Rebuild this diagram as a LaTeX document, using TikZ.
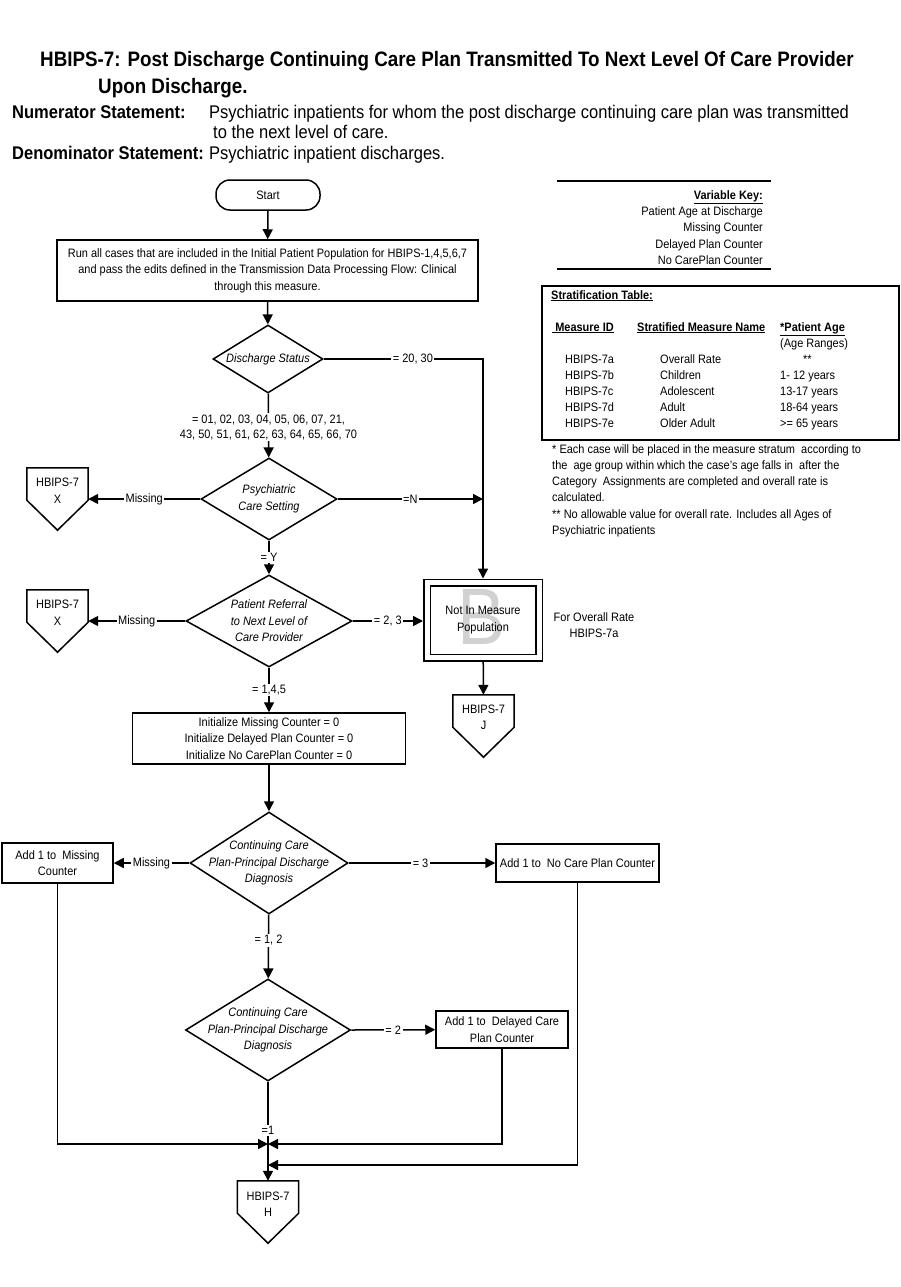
\documentclass[tikz,border=0pt]{standalone}
\usepackage{fontspec}
\setmainfont{Liberation Sans}[FakeStretch=0.9]
\usetikzlibrary{shapes.geometric,arrows.meta}
\begin{document}
\begin{tikzpicture}[x=1pt,y=-1pt,
		base/.style={font=\fontsize{12.2}{16.5}\selectfont,inner sep=0pt,align=center},
		box/.style={base,draw,line width=1.5pt},
		dec/.style={draw,diamond,line width=1.5pt,inner sep=0pt},
		dtxt/.style={base,font=\fontsize{12.2}{16.5}\selectfont\itshape},
		lab/.style={base,fill=white,inner sep=1.5pt},
		offp/.style={minimum width=61,minimum height=32,inner sep=0pt},
		flow/.style={line width=1.5pt,-{Triangle[length=10pt,width=10pt]}},
		head/.style={inner sep=0pt,anchor=base west,font=\fontsize{18.35}{21}\selectfont}]
		\useasboundingbox (0,0) rectangle (901,1287);
		\node[head,font=\fontsize{20.9}{24}\selectfont\bfseries] (title) at (40,67) {HBIPS-7: Post Discharge Continuing Care Plan Transmitted To Next Level Of Care Provider};
		\node[head,font=\fontsize{20.9}{24}\selectfont\bfseries] (title2) at (98,94) {Upon Discharge.};
		\node[head,font=\fontsize{18.35}{21}\selectfont\bfseries] (numlbl) at (12,118) {Numerator Statement:};
		\node[head] (numtxt) at (209,118) {Psychiatric inpatients for whom the post discharge continuing care plan was transmitted};
		\node[head] (numtxt2) at (213,139) {to the next level of care.};
		\node[head,font=\fontsize{18.35}{21}\selectfont\bfseries] (denlbl) at (12,159) {Denominator Statement:};
		\node[head] (dentxt) at (209,159) {Psychiatric inpatient discharges.};
		\node[box,rounded corners=14pt,minimum width=104,minimum height=30] (start) at (268,195) {Start};
		\node[box,minimum width=421,minimum height=61] (run) at (267.5,270.5) {Run all cases that are included in the Initial Patient Population for HBIPS-1,4,5,6,7\\and pass the edits defined in the Transmission Data Processing Flow: Clinical\\through this measure.};
		\node[dec,minimum width=110,minimum height=68,label={[dtxt]center:Discharge Status}] (dstat) at (268,359) {};
		\node[dec,minimum width=136,minimum height=82,label={[dtxt]center:{Psychiatric\\Care Setting}}] (care) at (269,499) {};
		\node[dec,minimum width=166,minimum height=92,label={[dtxt]center:{Patient Referral\\to Next Level of\\Care Provider}}] (refer) at (269,621) {};
		\node[box,minimum width=273,minimum height=51] (init) at (269,738.5) {Initialize Missing Counter = 0\\Initialize Delayed Plan Counter = 0\\Initialize No CarePlan Counter = 0};
		\node[dec,minimum width=158,minimum height=102,label={[dtxt]center:{Continuing Care\\Plan-Principal Discharge\\Diagnosis}}] (plana) at (269,863) {};
		\node[dec,minimum width=165,minimum height=102,label={[dtxt]center:{Continuing Care\\Plan-Principal Discharge\\Diagnosis}}] (planb) at (268,1030) {};
		\node[box,minimum width=111,minimum height=40] (addmiss) at (57.5,863) {Add 1 to\ \ Missing\\Counter};
		\node[box,minimum width=163,minimum height=38] (addno) at (577.5,863) {Add 1 to\ \ No Care Plan Counter};
		\node[box,minimum width=132,minimum height=37] (adddel) at (502,1029.5) {Add 1 to\ \ Delayed Care\\Plan Counter};
		\node[offp,label={[base,yshift=-6.5pt]center:{HBIPS-7\\X}}] (xa) at (57.5,484) {};
		\node[offp,label={[base,yshift=-6.5pt]center:{HBIPS-7\\X}}] (xb) at (57.5,606) {};
		\node[offp,label={[base,yshift=-6.5pt]center:{HBIPS-7\\J}}] (jc) at (483.5,711) {};
		\node[offp,label={[base,yshift=-7pt]center:{HBIPS-7\\H}}] (hc) at (268,1197) {};
		\foreach \n in {xa,xb,jc,hc}
			\draw[line width=1.5pt] (\n.south west) -- (\n.north west) -- (\n.north east) -- (\n.south east) -- ([yshift=-30pt]\n.south) -- cycle;
		\node[base,text=black!18,font=\fontsize{80}{80}\selectfont] (bmark) at (482,617) {B};
		\node[box,double,double distance=5pt,minimum width=112,minimum height=75,outer sep=4pt] (notin) at (483,620) {Not In Measure\\Population};
		\node[base] (overall) at (594,625) {For Overall Rate\\HBIPS-7a};
		\coordinate (mtop) at (268,1144);
		\coordinate (mlow) at (268,1165);
		\draw[flow] (start) -- (run);
		\draw[flow] (run) -- (dstat);
		\draw[flow] (dstat.east) -- node[lab,pos=.56]{= 20, 30} (dstat.east -| notin.north) -- (notin.north);
		\draw[flow] (dstat) -- node[lab,pos=.53]{= 01, 02, 03, 04, 05, 06, 07, 21,\\[-1.5pt]43, 50, 51, 61, 62, 63, 64, 65, 66, 70} (care);
		\draw[flow] (care.west) -- node[lab]{Missing} (care.west -| xa.east);
		\draw[flow] (care.east) -- node[lab]{=N} (care.east -| notin.north);
		\draw[flow] (care) -- node[lab]{= Y} (refer);
		\draw[flow] (refer.west) -- node[lab]{Missing} (refer.west -| xb.east);
		\draw[flow] (refer.east) -- node[lab]{= 2, 3} (refer.east -| notin.west);
		\draw[flow] (notin) -- (jc);
		\draw[flow] (refer) -- node[lab]{= 1,4,5} (init);
		\draw[flow] (init) -- (plana);
		\draw[flow] (plana.west) -- node[lab]{Missing} (addmiss);
		\draw[flow] (plana.east) -- node[lab,pos=.49]{= 3} (addno);
		\draw[flow] (plana) -- node[lab,pos=.4]{= 1, 2} (planb);
		\draw[flow] (planb.east) -- node[lab]{= 2} (adddel);
		\draw[flow] (planb) -- node[lab,pos=.49]{=1} (hc);
		\draw[flow] (addmiss) |- (mtop);
		\draw[flow] (adddel) |- (mtop);
		\draw[flow] (addno) |- (mlow);
		\draw[line width=2.4pt] (557,181) -- (771,181);
		\node[base,anchor=north east,align=right,font=\fontsize{12.2}{16.25}\selectfont] (varkey) at (763,190.4) {\underline{\textbf{Variable Key:}}\\Patient Age at Discharge\\Missing Counter\\Delayed Plan Counter\\No CarePlan Counter};
		\draw[line width=2.4pt] (557,269) -- (771,269);
		\node[draw,line width=1.5pt,minimum width=357,minimum height=154] (strat) at (720.5,363) {};
		\node[base,anchor=base west] (strtitle) at (551,299) {\underline{\textbf{Stratification Table:}}};
		\node[base,anchor=base west] (hid) at (552,331) {\underline{\textbf{\ Measure ID}}};
		\node[base,anchor=base west] (hname) at (637,331) {\underline{\textbf{Stratified Measure Name}}};
		\node[base,anchor=base west] (hage) at (780,331) {\underline{\textbf{*Patient Age}}};
		\node[base,anchor=north west,align=left,font=\fontsize{12.2}{16}\selectfont] (ids) at (565,354.3) {HBIPS-7a\\HBIPS-7b\\HBIPS-7c\\HBIPS-7d\\HBIPS-7e};
		\node[base,anchor=north west,align=left,font=\fontsize{12.2}{16}\selectfont] (names) at (660,354.1) {Overall Rate\\Children\\Adolescent\\Adult\\Older Adult};
		\node[base,anchor=north west,align=left,font=\fontsize{12.2}{16}\selectfont] (ages) at (780,338.1) {(Age Ranges)\\\hspace{23pt}**\\1- 12 years\\13-17 years\\18-64 years\\>= 65 years};
		\node[base,anchor=north west,align=left,font=\fontsize{12.2}{16.2}\selectfont] (foot) at (552,444.2) {* Each case will be placed in the measure stratum\ \ according to\\the\ \ age group within which the case’s age falls in\ \ after the\\Category\ \ Assignments are completed and overall rate is\\calculated.\\** No allowable value for overall rate. Includes all Ages of\\Psychiatric inpatients};
	\end{tikzpicture}
\end{document}
